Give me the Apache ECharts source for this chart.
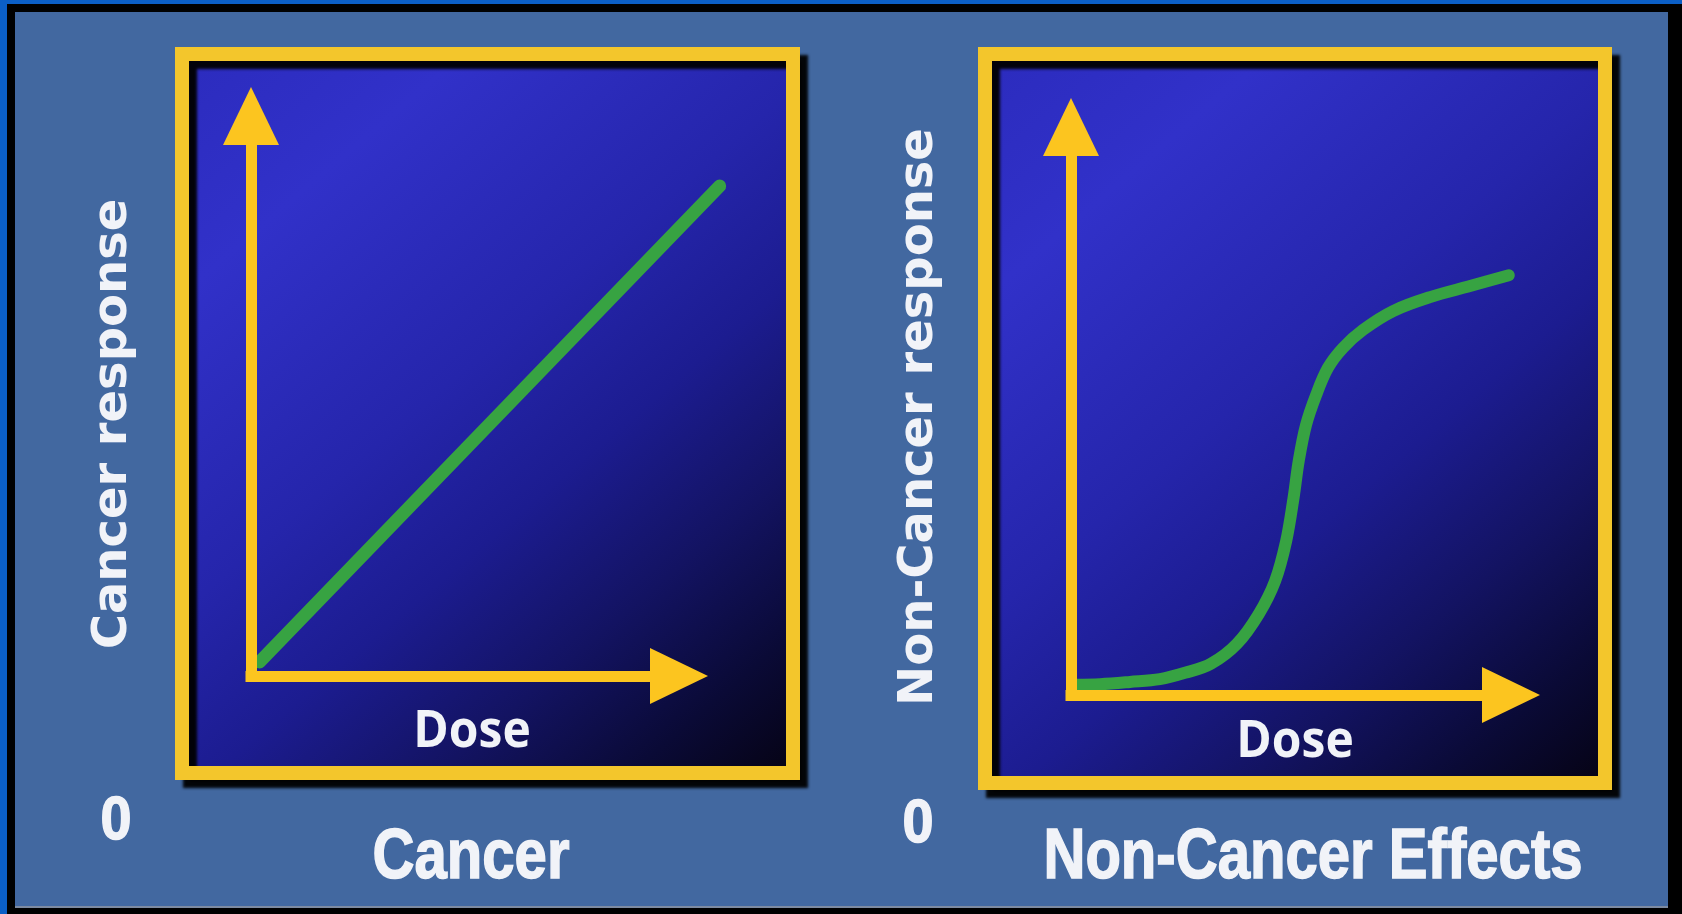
<!DOCTYPE html>
<html>
<head>
<meta charset="utf-8">
<title>Dose-response: Cancer vs Non-Cancer Effects</title>
<style>
  html, body { margin: 0; padding: 0; background: #000; }
  #chart { width: 1682px; height: 914px; }
</style>
<script src="https://cdn.jsdelivr.net/npm/echarts@6/dist/echarts.min.js"></script>
</head>
<body>
<div id="chart"></div>
<script>
// Cancer: linear, no-threshold dose-response
const cancerDose = [0.2, 10.95];
const cancerResponse = [0.25, 8.75];

// Non-cancer effects: threshold / sigmoid dose-response
const nonCancerDose = [0.11, 0.66, 1.34, 2.02, 2.59, 3.18, 3.77, 4.27, 4.64, 4.89, 5.05,
                       5.18, 5.34, 5.57, 5.84, 6.18, 6.64, 7.32, 8.18, 9.07, 9.95];
const nonCancerResponse = [0.18, 0.19, 0.23, 0.28, 0.39, 0.55, 0.90, 1.43, 2.01, 2.71, 3.43,
                           4.14, 4.75, 5.28, 5.76, 6.11, 6.43, 6.76, 7.01, 7.20, 7.39];

// Text
const panelTitles = ['Cancer', 'Non-Cancer Effects'];
const responseLabels = ['Cancer response', 'Non-Cancer response'];
const doseLabels = ['Dose', 'Dose'];
const originLabels = ['0', '0'];

const YELLOW = '#fcc51f';
const FRAME_YELLOW = '#f3c62c';
const GREEN = '#37a342';
const TEXT = '#f1f3f8';

const chart = echarts.init(document.getElementById('chart'));

function pairs(xs, ys) {
  return xs.map((x, i) => [x, ys[i]]);
}

// Visible axis: yellow shaft ending in a triangular arrow head
function arrowAxis(gridIndex) {
  return {
    type: 'value',
    gridIndex: gridIndex,
    min: 0,
    max: 10,
    z: 5,
    axisLine: {
      show: true,
      onZero: false,
      symbol: ['none', 'triangle'],
      symbolSize: [56, 58],
      lineStyle: { color: YELLOW, width: 11, cap: 'square' }
    },
    axisTick: { show: false },
    axisLabel: { show: false },
    splitLine: { show: false }
  };
}

// Hidden axis on the same scale, reaching past the arrow head
function plainAxis(gridIndex, max) {
  return {
    type: 'value',
    gridIndex: gridIndex,
    min: 0,
    max: max,
    show: false,
    splitLine: { show: false }
  };
}

function frame(x, y, w, h) {
  return {
    type: 'rect',
    z: 1,
    silent: true,
    shape: { x: x, y: y, width: w, height: h },
    style: {
      fill: {
        type: 'linear', x: 0, y: 0, x2: 1, y2: 1,
        colorStops: [
          { offset: 0.00, color: '#2b2bbd' },
          { offset: 0.20, color: '#3131c9' },
          { offset: 0.45, color: '#2525ab' },
          { offset: 0.60, color: '#1c1c90' },
          { offset: 0.75, color: '#131362' },
          { offset: 0.88, color: '#0a0a36' },
          { offset: 1.00, color: '#050210' }
        ]
      },
      stroke: FRAME_YELLOW,
      lineWidth: 14,
      shadowColor: 'rgba(0,0,0,0.95)',
      shadowBlur: 3,
      shadowOffsetX: 8,
      shadowOffsetY: 8
    }
  };
}

function label(text, x, y, font, extra, strokeWidth) {
  const el = Object.assign({
    type: 'text',
    z: 10,
    silent: true,
    x: x,
    y: y,
    style: {
      text: text,
      font: font,
      fill: TEXT,
      align: 'center',
      verticalAlign: 'middle'
    }
  }, extra || {});
  if (strokeWidth) {
    el.style.stroke = TEXT;
    el.style.lineWidth = strokeWidth;
  }
  return el;
}

const titleFont = 'bold 70px "Liberation Sans"';
const zeroFont = 'bold 62px "Liberation Sans"';
const responseFont = 'bold 48px "DejaVu Sans"';
const doseFont = 'bold 48px "Open Sans"';

const option = {
  backgroundColor: '#000',
  animation: false,
  grid: [
    { left: 251, top: 116, width: 428, height: 560 },
    { left: 1071, top: 127, width: 440, height: 568 },
    { left: 251, top: 116, width: 513.6, height: 560 }
  ],
  xAxis: [arrowAxis(0), arrowAxis(1), plainAxis(2, 12)],
  yAxis: [arrowAxis(0), arrowAxis(1), plainAxis(2, 10)],
  series: [
    {
      type: 'line',
      xAxisIndex: 2,
      yAxisIndex: 2,
      z: 4,
      symbol: 'none',
      data: pairs(cancerDose, cancerResponse),
      lineStyle: { color: GREEN, width: 13, cap: 'round' }
    },
    {
      type: 'line',
      xAxisIndex: 1,
      yAxisIndex: 1,
      z: 4,
      clip: false,
      symbol: 'none',
      smooth: 0.35,
      data: pairs(nonCancerDose, nonCancerResponse),
      lineStyle: { color: GREEN, width: 12, cap: 'round', join: 'round' }
    }
  ],
  graphic: [
    // window edge and slide panel
    { type: 'rect', z: 0, silent: true, shape: { x: 0, y: 0, width: 1682, height: 4 }, style: { fill: '#0b5fc6' } },
    { type: 'rect', z: 0, silent: true, shape: { x: 0, y: 0, width: 7, height: 914 }, style: { fill: '#0b5fc6' } },
    { type: 'rect', z: 0, silent: true, shape: { x: 15, y: 12, width: 1653, height: 894 }, style: { fill: '#4268a0' } },
    { type: 'rect', z: 0, silent: true, shape: { x: 15, y: 906, width: 1653, height: 2 }, style: { fill: '#7d8aa0' } },

    // plot frames
    frame(182, 54, 611, 719),
    frame(985, 54, 620, 729),

    // axis and panel labels
    label(responseLabels[0], 114, 424, responseFont, { rotation: Math.PI / 2 }),
    label(responseLabels[1], 920, 417, responseFont, { rotation: Math.PI / 2 }),
    label(doseLabels[0], 472, 732, doseFont, { scaleY: 1.1 }),
    label(doseLabels[1], 1295, 742, doseFont, { scaleY: 1.1 }),
    label(originLabels[0], 116, 822, zeroFont, { scaleX: 0.9 }, 1.5),
    label(originLabels[1], 918, 825, zeroFont, { scaleX: 0.9 }, 1.5),
    label(panelTitles[0], 471, 859, titleFont, { scaleX: 0.83 }, 1.5),
    label(panelTitles[1], 1313, 859, titleFont, { scaleX: 0.83 }, 1.5)
  ]
};

chart.setOption(option);
</script>
</body>
</html>
